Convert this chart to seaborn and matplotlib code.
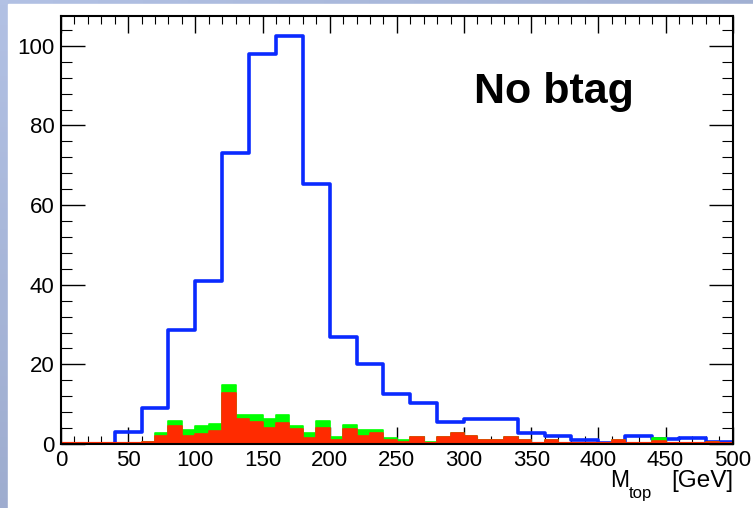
import numpy as np
import pandas as pd
import matplotlib
matplotlib.use("Agg")
import matplotlib.pyplot as plt
import seaborn as sns
from matplotlib.patches import Rectangle
from matplotlib.ticker import MultipleLocator
from matplotlib.colors import LinearSegmentedColormap

# ---------------- data ----------------
edges_coarse = list(range(0, 520, 20))          # 25 bins of 20 GeV
no_btag_all = [0, 0, 3, 9, 28.6, 41, 73, 98, 102.6, 65.3, 27, 20, 12.6, 10.3,
               5.6, 6.2, 6.2, 2.8, 2.0, 0.9, 0.2, 2.1, 1.2, 1.6, 0.6]

edges_fine = list(range(0, 510, 10))             # 50 bins of 10 GeV
green_total = [0, 0, 0, 0, 0, 0, 0.5, 2.8, 5.7, 3.6,
               4.5, 4.9, 14.9, 7.4, 7.3, 6.4, 7.3, 4.6, 2.8, 5.8,
               1.8, 4.7, 3.5, 3.5, 1.5, 1.1, 1.8, 0.4, 1.8, 2.8,
               1.9, 0.9, 0.9, 1.8, 0.9, 0, 0.9, 0, 0, 0,
               0, 1.0, 0.3, 0, 1.4, 0, 0.2, 0, 0.5, 0]
red_part = [0, 0, 0, 0, 0, 0, 0.5, 2.0, 4.5, 2.0,
            2.6, 3.2, 12.8, 6.4, 5.6, 4.1, 5.4, 3.7, 1.5, 3.9,
            1.0, 3.8, 2.0, 2.7, 1.0, 0.5, 1.8, 0, 1.8, 2.8,
            1.9, 0.9, 0.9, 1.8, 0.9, 0, 0.9, 0, 0, 0,
            0, 1.0, 0.3, 0, 0.8, 0, 0.2, 0, 0.5, 0]

xticks = [0, 50, 100, 150, 200, 250, 300, 350, 400, 450, 500]
yticks = [0, 20, 40, 60, 80, 100]
label_text = "No btag"

sns.set_theme(style="white")
plt.rcParams["font.family"] = ["Liberation Sans", "DejaVu Sans"]
for k in ("text.color", "axes.labelcolor", "xtick.color", "ytick.color"):
    plt.rcParams[k] = "black"
tick_fs = 16

W, H = 753, 508
fig = plt.figure(figsize=(W / 100, H / 100), dpi=100)

# slide-like bluish border (left & top)
bg = fig.add_axes([0, 0, 1, 1], zorder=-10)
gy = np.linspace(0, 1, 100)[:, None]
gx = np.linspace(0, 1, 100)[None, :]
grad = 0.55 * gy + 0.45 * gx
cmap = LinearSegmentedColormap.from_list("slide", ["#b2c1e4", "#8e9cbe"])
bg.imshow(grad, cmap=cmap, aspect="auto", extent=[0, 1, 0, 1], origin="upper")
bg.add_patch(Rectangle((8 / W, 0), 1, 1 - 4 / H, color="white", transform=bg.transAxes))
bg.set_xlim(0, 1)
bg.set_ylim(0, 1)
bg.axis("off")

left, right = 61 / W, 732.7 / W
bottom, top = (H - 444) / H, (H - 16) / H
ax = fig.add_axes([left, bottom, right - left, top - bottom])
ax.set_facecolor("white")

c_fine = [(a + b) / 2 for a, b in zip(edges_fine[:-1], edges_fine[1:])]
c_coarse = [(a + b) / 2 for a, b in zip(edges_coarse[:-1], edges_coarse[1:])]
df_c = pd.DataFrame({"m": c_coarse, "w": no_btag_all})
df_f = pd.DataFrame({"m": c_fine, "g": green_total, "r": red_part})

sns.histplot(data=df_c, x="m", weights="w", bins=edges_coarse, element="step",
             fill=False, color="#0a2aff", linewidth=2.6, ax=ax, zorder=2)
sns.histplot(data=df_f, x="m", weights="g", bins=edges_fine, element="step",
             fill=True, alpha=1, color="#00ff00", edgecolor="#00ff00",
             linewidth=1.2, ax=ax, zorder=3)
sns.histplot(data=df_f, x="m", weights="r", bins=edges_fine, element="step",
             fill=True, alpha=1, color="#ff2b00", edgecolor="#ff2b00",
             linewidth=1.2, ax=ax, zorder=4)
ax.axhline(0, color="#ff2b00", linewidth=3, zorder=4)

ax.set_xlim(0, 500)
ax.set_ylim(0, 107.5)
ax.set_xlabel("")
ax.set_ylabel("")

ax.set_xticks(xticks)
ax.set_yticks(yticks)
ax.xaxis.set_minor_locator(MultipleLocator(10))
ax.yaxis.set_minor_locator(MultipleLocator(4))
ax.tick_params(axis="both", which="both", direction="in", top=True, right=True,
               bottom=True, left=True, color="black", labelcolor="black")
ax.tick_params(axis="x", which="major", length=12, width=1.0, labelsize=tick_fs, pad=4.5)
ax.tick_params(axis="x", which="minor", length=6, width=0.8)
ax.tick_params(axis="y", which="major", length=17, width=1.0, labelsize=tick_fs, pad=4.5)
ax.tick_params(axis="y", which="minor", length=8, width=0.8)
for s in ax.spines.values():
    s.set_visible(True)
    s.set_color("black")
    s.set_linewidth(1.5)
    s.set_zorder(6)

ax.text(474 / W, (H - 103) / H, label_text, transform=fig.transFigure,
        fontsize=31, fontweight="bold", color="black",
        ha="left", va="baseline")

# x-axis title M_top [GeV]
fig.text(610 / W, (H - 487) / H, "M", fontsize=16.5, ha="left", va="baseline")
fig.text(629 / W, (H - 498) / H, "top", fontsize=12, ha="left", va="baseline")
fig.text(733 / W, (H - 487) / H, "[GeV]", fontsize=17.5, ha="right", va="baseline")

fig.savefig("out.png", dpi=100)
